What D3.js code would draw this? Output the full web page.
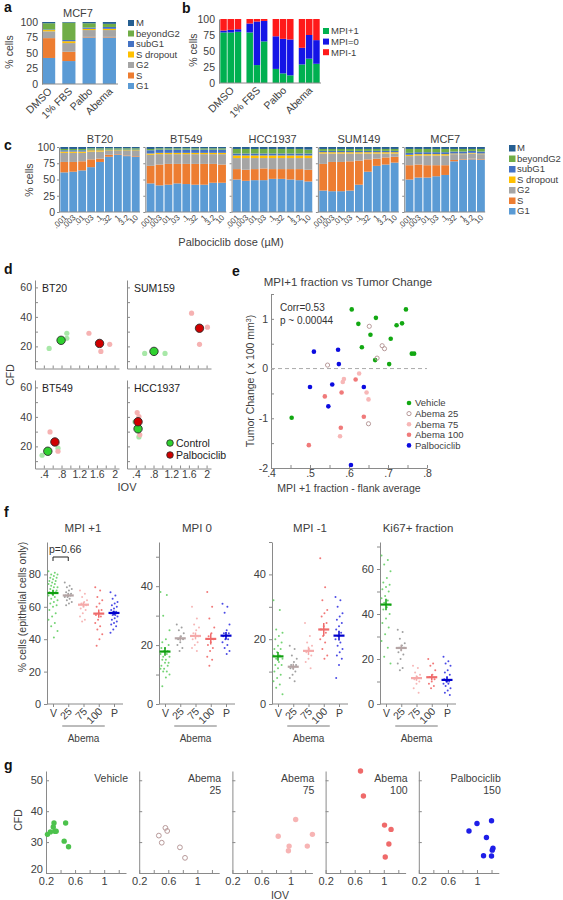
<!DOCTYPE html>
<html><head><meta charset="utf-8">
<script src="https://cdn.jsdelivr.net/npm/d3@7"></script>
<style>html,body{margin:0;padding:0;background:#fff;}</style>
</head><body>
<script>
// ================= DATA =================
const phaseKeys = ["G1","S","G2","S dropout","subG1","beyondG2","M"];
// panel a (MCF7)
const aCategories = ["DMSO","1% FBS","Palbo","Abema"];
const aG1 = [42,37,75,75];
const aS = [32,15,1,1];
const aG2 = [11,14,11,11];
const aSdrop = [2,3,2,2];
const aSubG1 = [1,2,2,3];
const aBeyondG2 = [10,28,7,5];
const aM = [2,1,2,3];
// panel b
const bGroups = ["DMSO","1% FBS","Palbo","Abema"];
const bReps = ["r1","r2","r3"];
const bKeys = ["MPI+1","MPI=0","MPI-1"];
const bMPIp1 = [[79,79,80],[79,28,65],[22,15,12],[29,38,30]];
const bMPI0  = [[3,4,4],[14,68,32],[51,54,56],[26,37,37]];
const bMPIm1 = [[18,17,16],[7,4,3],[27,31,32],[45,25,33]];
// panel c
const cCellLines = ["BT20","BT549","HCC1937","SUM149","MCF7"];
const cDoses = [".001",".003",".01",".03",".1",".32","1","3.2","10"];
const cG1 = [[61,62,64,69,77,85,88,86,85],[44,41,42,44,43,42,42,45,45],[50,48,49,49,51,51,50,49,47],[33,32,32,33,42,62,71,73,76],[50,53,53,55,57,78,80,81,80]];
const cS  = [[16,15,14,12,5,3,1,1,1],[27,32,32,30,31,32,32,29,28],[16,17,17,18,15,15,16,17,18],[41,45,45,45,37,19,11,11,9],[22,20,19,17,15,2,1,1,1]];
const cG2 = [[14,14,13,12,11,6,5,7,8],[17,16,15,15,15,15,15,15,16],[17,18,17,16,17,17,17,17,18],[16,13,13,12,11,9,8,6,5],[14,14,15,15,15,9,8,8,8]];
const cSdrop = [[2,2,2,2,2,1,1,1,1],[2,2,2,2,2,2,2,2,2],[4,4,4,4,4,4,4,4,4],[2,2,2,2,2,2,2,2,2],[2,2,2,2,2,1,1,1,1]];
const cSubG1 = [[2,2,2,1,1,1,1,1,1],[5,5,5,5,5,5,5,5,5],[3,3,3,3,3,3,3,3,3],[2,2,2,2,2,2,2,2,2],[3,3,3,3,3,3,3,3,3]];
const cBeyondG2 = [[2,2,2,2,2,2,2,2,2],[2,2,2,2,2,2,2,2,2],[7,7,7,7,7,7,7,7,6],[3,3,3,3,3,3,3,3,3],[6,5,5,5,5,4,4,3,4]];
const cM = [[3,3,3,2,2,2,2,2,2],[3,2,2,2,2,2,2,2,2],[3,3,3,3,3,3,3,3,4],[3,3,3,3,3,3,3,3,3],[3,3,3,3,3,3,3,3,3]];
// panel d  [IOV, CFD]
const dPanelNames = ["BT20","SUM159","BT549","HCC1937"];
const dControlReps = [[[0.52,18.6],[0.92,28.9],[0.92,25.5]],[[0.60,15.2],[0.81,17.3],[1.06,15.2]],[[0.36,14.0],[0.72,18.8],[0.49,16.7]],[[0.38,36.7],[0.47,26.4],[0.45,31.0]]];
const dControlMean = [[0.79,24.1],[0.81,16.6],[0.49,16.7],[0.45,31.9]];
const dPalboReps = [[[1.42,28.9],[1.69,16.6],[1.89,21.4]],[[1.66,42.5],[2.02,33.0],[1.84,21.4]],[[0.54,29.8],[0.72,16.7],[0.70,22.0]],[[0.43,42.9],[0.47,40.2],[0.49,27.8]]];
const dPalboMean = [[1.66,22.0],[1.84,32.3],[0.65,23.0],[0.45,36.7]];
// panel e  [MPI+1 fraction, tumor change]
const eVehicle = [[0.607,1.19],[0.669,1.02],[0.746,1.19],[0.624,0.90],[0.722,0.87],[0.736,0.91],[0.655,0.68],[0.707,0.60],[0.633,0.43],[0.761,0.30],[0.767,0.30],[0.667,0.17],[0.703,0.09],[0.453,-0.99]];
const eAbema25 = [[0.652,0.85],[0.685,0.46],[0.691,0.40],[0.672,0.21],[0.545,0.07],[0.650,-1.11]];
const eAbema75 = [[0.626,-0.10],[0.587,-0.21],[0.584,-0.27],[0.645,-0.48],[0.650,-0.62],[0.577,-1.36]];
const eAbema100 = [[0.617,-0.22],[0.581,-0.48],[0.538,-0.56],[0.638,-0.97],[0.579,-1.19],[0.497,-1.54]];
const ePalbo = [[0.510,0.34],[0.572,0.38],[0.574,0.09],[0.500,-0.37],[0.557,-0.32],[0.638,-0.37],[0.547,-0.76],[0.605,-1.94]];
const eLegend = ["Vehicle","Abema 25","Abema 75","Abema 100","Palbociclib"];
// panel f
const fCategories = ["V","25","75","100","P"];
const fTitles = ["MPI +1","MPI 0","MPI -1","Ki67+ fraction"];
const fMPIp1 = [
 [82,81,80,80,79,78,78,77,76,76,75,74,74,73,72,72,71,70,70,69,69,68,67,66,65,64,63,62,61,60,58,56,54,52,50,48,45,41],
 [75,73,72,71,70,69,68,68,67,67,66,66,65,64,63,62,61],
 [70,68,66,64,63,62,61,60,59,58,56,54,52,51],
 [72,70,66,64,62,60,58,56,55,54,52,50,48,46,43,40,36],
 [69,67,65,63,62,61,60,59,58,57,57,56,55,55,54,53,52,51,50,49,48,46,44]];
const fMPIp1Means = [68.5,67,61.3,55.8,56.2];
const fMPI0 = [
 [38,37,30,25,22,21,20,19,19,18,18,17,17,16,16,15,15,14,14,13,13,12,12,11,11,10,9,6],
 [27,26,25,24,23,22,22,21,20,19,18],
 [33,29,27,26,25,24,23,23,22,21,20,19,18],
 [38,33,29,26,24,23,22,21,20,19,18,16,15,13],
 [34,33,31,27,25,24,24,23,23,22,22,21,20,19,18,17]];
const fMPI0Means = [17.8,22.3,23.1,22.1,23.2];
const fMPIm1 = [
 [32,29,23,22,21,20,19,18,17,17,16,15,15,14,14,13,12,12,11,10,9,8,7,6,5,3],
 [18,17,15,14,13,12,12,11,11,10,9,8,7],
 [25,21,19,18,17,16,15,14,13,11],
 [45,36,32,29,28,27,25,24,23,22,21,20,19,17,15,14],
 [33,32,30,28,27,26,25,24,23,22,21,20,19,18,17,16,15,14,12,8]];
const fMPIm1Means = [14.7,11.5,16.4,23,21.1];
const fKi67 = [
 [66,64,62,59,56,54,53,52,51,50,48,47,46,45,44,43,42,40,38,36,34,31,28,25,21,18],
 [33,32,29,27,26,25,25,24,23,22,20,18,16,15],
 [17,16,14,13,12,11,10,9,7,5],
 [20,18,17,15,13,12,11,10,9,8,7],
 [21,19,18,17,15,14,13,12,11,10,10,9,9,8,7,6,5,4]];
const fKi67Means = [44.2,24.9,11.5,11.9,10.7];
const fYTop = [100,55,50,72];
// panel g  [IOV, CFD]
const gTitles = [["Vehicle"],["Abema","25"],["Abema","75"],["Abema","100"],["Palbociclib","150"]];
const gVehicle = [[0.22,32.5],[0.26,33.3],[0.30,34.9],[0.31,36.2],[0.32,33.5],[0.34,33.5],[0.45,30.3],[0.47,36.2],[0.51,28.5]];
const gAbema25 = [[0.47,32.1],[0.51,29.8],[0.56,34.6],[0.585,33.6],[0.76,28.3],[0.83,24.9]];
const gAbema75 = [[0.83,31.9],[0.98,28.7],[0.97,27.2],[1.07,37.3],[1.23,28.7],[1.30,32.5]];
const gAbema100 = [[0.68,53.0],[0.72,44.9],[1.01,35.5],[1.10,34.1],[1.07,29.4],[1.02,25.2]];
const gPalbo = [[0.89,33.6],[1.00,36.0],[1.20,36.9],[1.13,31.5],[1.22,28.0],[1.21,27.4],[1.09,25.6],[1.20,25.5]];

// ================= STYLE =================
const FONT = "'Liberation Sans', Arial, Helvetica, sans-serif";
const TXT = "#404040", AXC = "#8a8a8a";
const phaseColors = {"G1":"#5b9bd5","S":"#ed7d31","G2":"#a5a5a5","S dropout":"#ffc000","subG1":"#4472c4","beyondG2":"#70ad47","M":"#255e91"};
const bColors = {"MPI+1":"#00b050","MPI=0":"#1515e6","MPI-1":"#ff1a1a"};

const svg = d3.select("body").append("svg").attr("width",563).attr("height",900).attr("font-family",FONT);
svg.append("rect").attr("width",563).attr("height",900).attr("fill","#fff");

function label(x,y,s,size,anchor,rot,fill,weight){
  const t = svg.append("text").attr("x",x).attr("y",y).text(s)
    .attr("font-size",size).attr("fill",fill||TXT).attr("text-anchor",anchor||"start");
  if(weight) t.attr("font-weight",weight);
  if(rot) t.attr("transform",`rotate(${rot},${x},${y})`);
  return t;
}
function styleAxis(g,size){
  g.attr("font-family",FONT).attr("font-size",size);
  g.selectAll("path.domain").attr("stroke",AXC);
  g.selectAll(".tick line").attr("stroke",AXC);
  g.selectAll(".tick text").attr("fill",TXT);
  return g;
}
function letter(x,y,s){ label(x,y,s,14,"start",0,"#111","bold"); }

// ================= PANEL A =================
letter(4,12,"a");
(function(){
  const x = d3.scaleBand().domain(aCategories).range([40,118]).paddingInner(0.35).paddingOuter(0.1);
  const y = d3.scaleLinear().domain([0,100]).range([84,22]);
  const rows = aCategories.map((c,i)=>({cat:c,"G1":aG1[i],"S":aS[i],"G2":aG2[i],"S dropout":aSdrop[i],"subG1":aSubG1[i],"beyondG2":aBeyondG2[i],"M":aM[i]}));
  const st = d3.stack().keys(phaseKeys)(rows);
  svg.append("g").selectAll("g").data(st).join("g").attr("fill",d=>phaseColors[d.key])
    .selectAll("rect").data(d=>d).join("rect")
    .attr("x",d=>x(d.data.cat)).attr("width",x.bandwidth())
    .attr("y",d=>y(d[1])).attr("height",d=>y(d[0])-y(d[1]));
  styleAxis(svg.append("g").attr("transform","translate(42,0)").call(d3.axisLeft(y).tickValues([0,25,50,75,100]).tickSize(0).tickPadding(4)),10.5);
  const xa = svg.append("g").attr("transform","translate(0,84)").call(d3.axisBottom(x).tickSize(0).tickPadding(0));
  styleAxis(xa,10.5);
  xa.select("path.domain").attr("d","M42,0H118");
  xa.selectAll(".tick text").attr("y",0).attr("dy",0).attr("text-anchor","end").attr("transform","translate(4,8) rotate(-45)");
  label(78,17,"MCF7",11,"middle");
  label(13,52,"% cells",10.5,"middle",-90);
  phaseKeys.slice().reverse().forEach((k,i)=>{
    const yy = 23 + i*10.5;
    svg.append("rect").attr("x",128).attr("y",yy-3).attr("width",6).attr("height",6).attr("fill",phaseColors[k]);
    label(136,yy+3.4,k,9.5,"start");
  });
})();

// ================= PANEL B =================
letter(182,13,"b");
(function(){
  const gx = d3.scaleBand().domain(bGroups).range([219,321]).paddingInner(0.2).paddingOuter(0.05);
  const rx = d3.scaleBand().domain(bReps).range([0,gx.bandwidth()]).paddingInner(0.1);
  const y = d3.scaleLinear().domain([0,100]).range([83,19]);
  const rows = [];
  bGroups.forEach((gname,i)=>bReps.forEach((r,j)=>rows.push({grp:gname,rep:r,"MPI+1":bMPIp1[i][j],"MPI=0":bMPI0[i][j],"MPI-1":bMPIm1[i][j]})));
  const st = d3.stack().keys(bKeys)(rows);
  svg.append("g").selectAll("g").data(st).join("g").attr("fill",d=>bColors[d.key])
    .selectAll("rect").data(d=>d).join("rect")
    .attr("x",d=>gx(d.data.grp)+rx(d.data.rep)).attr("width",rx.bandwidth())
    .attr("y",d=>y(d[1])).attr("height",d=>y(d[0])-y(d[1]));
  styleAxis(svg.append("g").attr("transform","translate(219,0)").call(d3.axisLeft(y).tickValues([0,25,50,75,100]).tickSize(0).tickPadding(4)),10.5);
  const xa = svg.append("g").attr("transform","translate(0,83)").call(d3.axisBottom(gx).tickSize(0).tickPadding(0));
  styleAxis(xa,10.5);
  xa.select("path.domain").attr("d","M219,0H321");
  xa.selectAll(".tick text").attr("y",0).attr("dy",0).attr("text-anchor","end").attr("transform","translate(4,8) rotate(-45)");
  label(197,50,"% cells",10.5,"middle",-90);
  bKeys.forEach((k,i)=>{
    const yy = 31 + i*10.6;
    svg.append("rect").attr("x",323).attr("y",yy-3).attr("width",6).attr("height",6).attr("fill",bColors[k]);
    label(331,yy+3.4,k,9.5,"start");
  });
})();

// ================= PANEL C =================
letter(4,150,"c");
(function(){
  const y = d3.scaleLinear().domain([0,100]).range([212,147]);
  cCellLines.forEach((cl,j)=>{
    const x0 = 60 + j*86.3;
    const x = d3.scaleBand().domain(cDoses).range([x0,x0+80]).paddingInner(0.12).paddingOuter(0.04);
    const rows = cDoses.map((d,i)=>({dose:d,"G1":cG1[j][i],"S":cS[j][i],"G2":cG2[j][i],"S dropout":cSdrop[j][i],"subG1":cSubG1[j][i],"beyondG2":cBeyondG2[j][i],"M":cM[j][i]}));
    const st = d3.stack().keys(phaseKeys)(rows);
    svg.append("g").selectAll("g").data(st).join("g").attr("fill",d=>phaseColors[d.key])
      .selectAll("rect").data(d=>d).join("rect")
      .attr("x",d=>x(d.data.dose)).attr("width",x.bandwidth())
      .attr("y",d=>y(d[1])).attr("height",d=>y(d[0])-y(d[1]));
    const ya = svg.append("g").attr("transform",`translate(${x0-1},0)`)
      .call(d3.axisLeft(y).tickValues([0,25,50,75,100]).tickSizeInner(2).tickSizeOuter(0).tickPadding(2).tickFormat(j===0?d3.format("d"):()=>""));
    styleAxis(ya,10.5);
    const xa = svg.append("g").attr("transform","translate(0,212)").call(d3.axisBottom(x).tickSize(0).tickPadding(0));
    styleAxis(xa,8);
    xa.select("path.domain").attr("d",`M${x0-1},0H${x0+80}`);
    xa.selectAll(".tick text").attr("y",0).attr("dy",0).attr("text-anchor","end").attr("transform","translate(3,6) rotate(-45)");
    label(x0+40,143,cl,11,"middle");
  });
  label(33,180,"% cells",10.5,"middle",-90);
  label(231,246,"Palbociclib dose (\u00b5M)",11,"middle");
  phaseKeys.slice().reverse().forEach((k,i)=>{
    const yy = 148 + i*10.5;
    svg.append("rect").attr("x",509).attr("y",yy-3).attr("width",6.5).attr("height",6.5).attr("fill",phaseColors[k]);
    label(517,yy+3.4,k,9.5,"start");
  });
})();

// ================= PANEL D =================
letter(4,274,"d");
(function(){
  const lefts = [35,127], tops = [280,380], w = 84, h = 88.5;
  const fmt = v => { const s = d3.format(".1f")(v); return (Math.abs(v-2)<1e-9?"2":s.replace(/^0/,"")); };
  dPanelNames.forEach((name,p)=>{
    const col = p%2, row = Math.floor(p/2);
    const L = lefts[col], T = tops[row];
    const x = d3.scaleLinear().domain([0.2,2.1]).range([L,L+w]);
    const y = d3.scaleLinear().domain([5,65]).range([T+h,T]);
    const xa = svg.append("g").attr("transform",`translate(0,${T+h})`)
      .call(d3.axisBottom(x).tickValues([0.4,0.6,0.8,1.0,1.2,1.4,1.6,1.8,2.0]).tickSizeInner(-3).tickSizeOuter(0).tickPadding(2)
      .tickFormat(v=> row===1 && Math.round(v*10)%4===0 ? fmt(v) : ""));
    styleAxis(xa,10.5);
    const ya = svg.append("g").attr("transform",`translate(${L},0)`)
      .call(d3.axisLeft(y).tickValues([10,20,30,40,50,60]).tickSizeInner(-3).tickSizeOuter(0).tickPadding(3)
      .tickFormat(v=> col===0 && v%20===0 ? v : ""));
    styleAxis(ya,10.5);
    label(L+7,T+12,name,10.5,"start",0,"#222");
    const g = svg.append("g");
    g.selectAll("circle.cr").data(dControlReps[p]).join("circle").attr("cx",d=>x(d[0])).attr("cy",d=>y(d[1])).attr("r",2.6).attr("fill","#a8e8a8");
    g.selectAll("circle.pr").data(dPalboReps[p]).join("circle").attr("cx",d=>x(d[0])).attr("cy",d=>y(d[1])).attr("r",2.6).attr("fill","#f6b2b2");
    g.append("circle").attr("cx",x(dControlMean[p][0])).attr("cy",y(dControlMean[p][1])).attr("r",4.2).attr("fill","#2fd12f").attr("stroke","#2a2a2a").attr("stroke-width",0.9);
    g.append("circle").attr("cx",x(dPalboMean[p][0])).attr("cy",y(dPalboMean[p][1])).attr("r",4.2).attr("fill","#d00000").attr("stroke","#2a2a2a").attr("stroke-width",0.9);
  });
  label(14,375,"CFD",10.5,"middle",-90);
  label(127,491,"IOV",11,"middle");
  svg.append("circle").attr("cx",170).attr("cy",443).attr("r",3.3).attr("fill","#2fd12f").attr("stroke","#2a2a2a").attr("stroke-width",0.8);
  svg.append("circle").attr("cx",170).attr("cy",455).attr("r",3.3).attr("fill","#d00000").attr("stroke","#2a2a2a").attr("stroke-width",0.8);
  label(176,446.6,"Control",10.5,"start",0,"#222");
  label(176,458.6,"Palbociclib",10.5,"start",0,"#222");
})();

// ================= PANEL E =================
letter(232,276,"e");
(function(){
  const x = d3.scaleLinear().domain([0.4,0.8]).range([271,427]);
  const y = d3.scaleLinear().domain([-2,1.5]).range([468,294]);
  const xa = svg.append("g").attr("transform","translate(0,468)")
    .call(d3.axisBottom(x).tickValues([0.4,0.45,0.5,0.55,0.6,0.65,0.7,0.75,0.8]).tickSizeInner(-3).tickSizeOuter(0).tickPadding(2)
    .tickFormat(v=> Math.round(v*100)%10===0 ? d3.format(".1f")(v).replace(/^0/,"") : ""));
  styleAxis(xa,10.5);
  const ya = svg.append("g").attr("transform","translate(271,0)")
    .call(d3.axisLeft(y).tickValues([-2,-1.5,-1,-0.5,0,0.5,1,1.5]).tickSizeInner(-3).tickSizeOuter(0).tickPadding(3)
    .tickFormat(v=> Number.isInteger(v) ? v : ""));
  styleAxis(ya,10.5);
  svg.append("line").attr("x1",271).attr("x2",427).attr("y1",y(0)).attr("y2",y(0)).attr("stroke","#aaaaaa").attr("stroke-dasharray","4,3");
  const sets = [[eVehicle,"#12a812",false],[eAbema25,"#b89a9a",true],[eAbema75,"#f7b7b7",false],[eAbema100,"#f07a7a",false],[ePalbo,"#0b0be0",false]];
  sets.forEach(([data,c,open])=>{
    svg.append("g").selectAll("circle").data(data).join("circle")
      .attr("cx",d=>x(d[0])).attr("cy",d=>y(d[1])).attr("r",open?2.1:2.3)
      .attr("fill",open?"none":c).attr("stroke",open?c:"none").attr("stroke-width",1);
  });
  eLegend.forEach((s,i)=>{
    const yy = 403 + i*10.6;
    const c = sets[i][1], open = sets[i][2];
    svg.append("circle").attr("cx",409).attr("cy",yy).attr("r",open?2.1:2.3).attr("fill",open?"none":c).attr("stroke",open?c:"none");
    label(415,yy+3.4,s,9.5,"start");
  });
  label(348,286,"MPI+1 fraction vs Tumor Change",11.5,"middle");
  label(280,311,"Corr=0.53",10,"start",0,"#333");
  label(280,324,"p ~ 0.00044",10,"start",0,"#333");
  label(349,492,"MPI +1 fraction - flank average",10.5,"middle");
  const yl = svg.append("text").attr("transform","translate(254,381) rotate(-90)").attr("text-anchor","middle").attr("font-size",10.5).attr("fill",TXT);
  yl.append("tspan").text("Tumor Change ( x 100 mm");
  yl.append("tspan").attr("baseline-shift","super").attr("font-size",7).text("3");
  yl.append("tspan").text(")");
})();

// ================= PANEL F =================
letter(4,517,"f");
(function(){
  const axX = [47,159,272,380];
  const datasets = [fMPIp1,fMPI0,fMPIm1,fKi67];
  const means = [fMPIp1Means,fMPI0Means,fMPIm1Means,fKi67Means];
  const dotCol = ["#5ccc5c","#8f8f8f","#f5a9a9","#ef5f5f","#2a2ae0"];
  const meanCol = ["#10a010","#b5a5a5","#f5a9a9","#ef6b6b","#0000cc"];
  const titleX = [83,197,310,418];
  const tickSets = [[0,20,40,60,80],[0,10,20,30,40,50],[0,10,20,30,40,50],[0,10,20,30,40,50,60,70]];
  datasets.forEach((data,p)=>{
    const L = axX[p];
    const x = d3.scalePoint().domain(fCategories).range([L+6,L+67]);
    const y = d3.scaleLinear().domain([0,fYTop[p]]).range([704,542]);
    const ya = svg.append("g").attr("transform",`translate(${L},0)`)
      .call(d3.axisLeft(y).tickValues(tickSets[p]).tickSizeInner(3).tickSizeOuter(0).tickPadding(3).tickFormat(v=>v%20===0?v:""));
    styleAxis(ya,11);
    const xa = svg.append("g").attr("transform","translate(0,704)")
      .call(d3.axisBottom(x).tickSizeInner(3).tickSizeOuter(0).tickPadding(2));
    styleAxis(xa,10.5);
    xa.select("path.domain").attr("d",`M${L},0H${L+76}`);
    xa.selectAll(".tick text").each(function(d){
      const t = d3.select(this);
      if(d==="V"||d==="P"){ t.attr("y",4).attr("dy","0.85em"); }
      else { t.attr("y",0).attr("dy",0).attr("text-anchor","end").attr("transform","translate(4,8) rotate(-45)"); }
    });
    fCategories.forEach((c,k)=>{
      const vals = data[k];
      const spread = k===0?4.5:3.5;
      svg.append("g").selectAll("circle").data(vals).join("circle")
        .attr("cx",(v,i)=>x(c) + (((i*7)%11)-5)/5*spread)
        .attr("cy",v=>y(v)).attr("r",1).attr("fill",dotCol[k]).attr("opacity",0.85);
      const m = means[p][k];
      const sem = d3.deviation(vals)/Math.sqrt(vals.length);
      svg.append("line").attr("x1",x(c)).attr("x2",x(c)).attr("y1",y(m-sem)).attr("y2",y(m+sem)).attr("stroke",meanCol[k]).attr("stroke-width",1.5);
      svg.append("line").attr("x1",x(c)-5.5).attr("x2",x(c)+5.5).attr("y1",y(m)).attr("y2",y(m)).attr("stroke",meanCol[k]).attr("stroke-width",2.2);
    });
    label(titleX[p],532,fTitles[p],11.5,"middle");
    svg.append("line").attr("x1",x("25")-6).attr("x2",x("100")+6).attr("y1",726).attr("y2",726).attr("stroke","#555").attr("stroke-width",0.8);
    label(x("75"),742,"Abema",10,"middle");
    if(p===0){
      const x1 = x("V"), x2 = x("25");
      svg.append("path").attr("d",`M${x1},561V557H${x2}V561`).attr("fill","none").attr("stroke","#222").attr("stroke-width",1);
      label(49,553,"p=0.66",10.5,"start",0,"#333");
    }
  });
  label(26,607,"% cells (epithelial cells only)",10.5,"middle",-90);
})();

// ================= PANEL G =================
letter(4,770,"g");
(function(){
  const lefts = [46,139.2,232.4,325.6,418.8], w = 80;
  const sets = [[gVehicle,"#4cc24c",false],[gAbema25,"#b89a9a",true],[gAbema75,"#f7b4b4",false],[gAbema100,"#ef6a6a",false],[gPalbo,"#1e1ee8",false]];
  sets.forEach(([data,c,open],p)=>{
    const L = lefts[p];
    const x = d3.scaleLinear().domain([0.2,1.3]).range([L,L+w]);
    const y = d3.scaleLinear().domain([20,53]).range([873,771]);
    const xa = svg.append("g").attr("transform","translate(0,873)")
      .call(d3.axisBottom(x).tickValues([0.2,0.4,0.6,0.8,1.0,1.2]).tickSizeInner(-3).tickSizeOuter(0).tickPadding(4)
      .tickFormat(v=>{const r=Math.round(v*10); return r===2?"0.2":r===6?"0.6":r===10?"1":"";}));
    styleAxis(xa,11);
    const ya = svg.append("g").attr("transform",`translate(${L},0)`)
      .call(d3.axisLeft(y).tickValues([20,30,40,50]).tickSizeInner(-3).tickSizeOuter(0).tickPadding(3).tickFormat(v=>p===0?v:""));
    styleAxis(ya,11);
    ya.selectAll(".tick text").filter(v=>v===20).attr("dy","-0.05em");
    svg.append("g").selectAll("circle").data(data).join("circle")
      .attr("cx",d=>x(d[0])).attr("cy",d=>y(d[1])).attr("r",open?2.4:2.7)
      .attr("fill",open?"none":c).attr("stroke",open?c:"none").attr("stroke-width",1);
    gTitles[p].forEach((s,i)=> label(L+82,782+i*12,s,10.5,"end"));
  });
  label(22,820,"CFD",10.5,"middle",-90);
  label(280,899,"IOV",10.5,"middle");
})();
</script>
</body></html>
